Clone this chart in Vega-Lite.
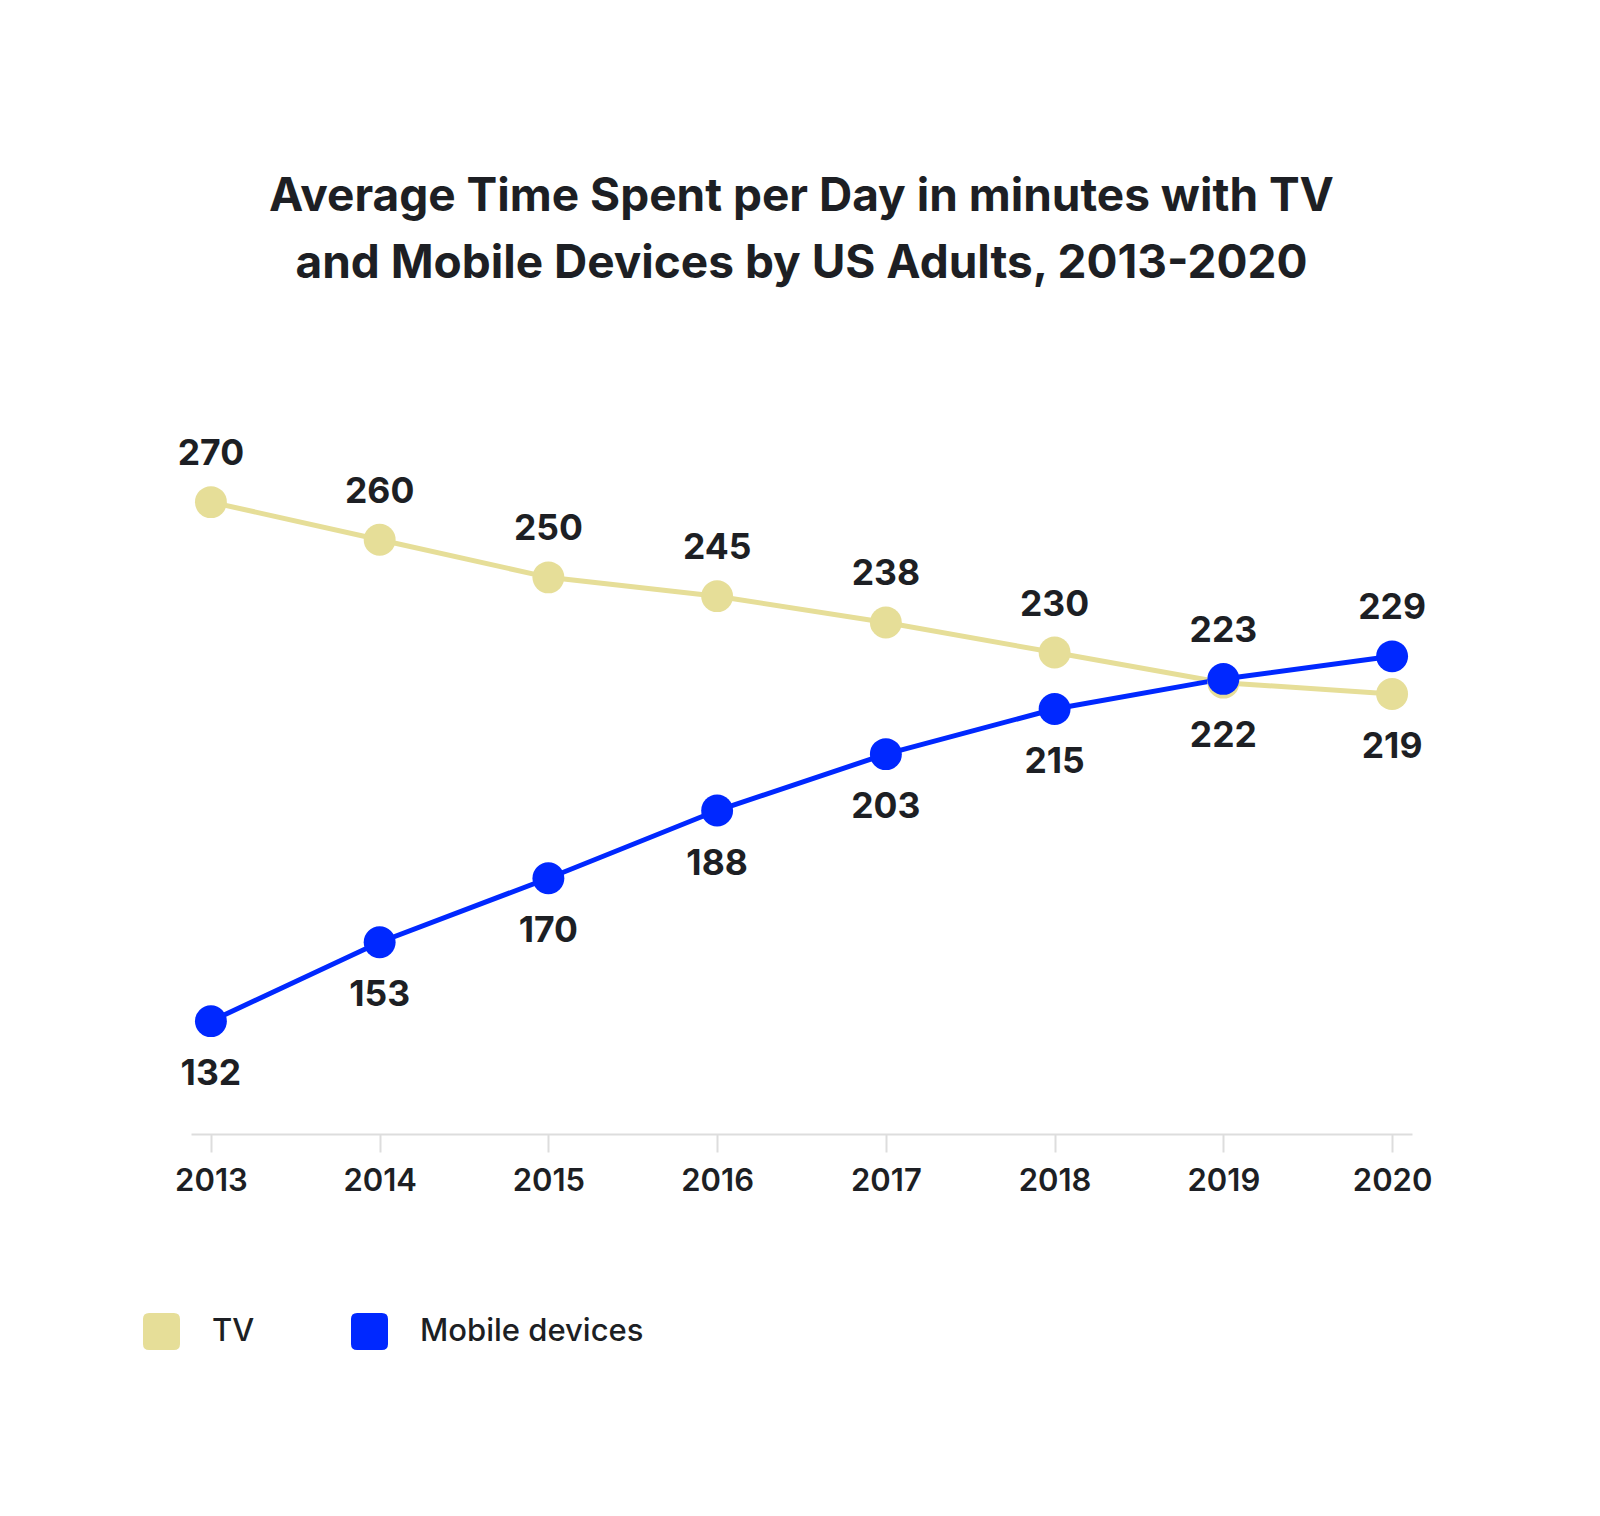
{
  "$schema": "https://vega.github.io/schema/vega-lite/v6.json",
  "width": 1221,
  "height": 677,
  "autosize": {"type": "none"},
  "padding": {"left": 191, "top": 457, "right": 188, "bottom": 382},
  "background": "white",
  "title": {
    "text": ["Average Time Spent per Day in minutes with TV", "and Mobile Devices by US Adults, 2013-2020"],
    "font": "Inter",
    "fontSize": 46,
    "fontWeight": 700,
    "color": "#1d1f24",
    "anchor": "middle",
    "offset": 149,
    "lineHeight": 67
  },
  "config": {"view": {"stroke": null}},
  "data": {
    "values": [
      {"year": 2013, "series": "TV", "minutes": 270},
      {"year": 2014, "series": "TV", "minutes": 260},
      {"year": 2015, "series": "TV", "minutes": 250},
      {"year": 2016, "series": "TV", "minutes": 245},
      {"year": 2017, "series": "TV", "minutes": 238},
      {"year": 2018, "series": "TV", "minutes": 230},
      {"year": 2019, "series": "TV", "minutes": 222},
      {"year": 2020, "series": "TV", "minutes": 219},
      {"year": 2013, "series": "Mobile devices", "minutes": 132},
      {"year": 2014, "series": "Mobile devices", "minutes": 153},
      {"year": 2015, "series": "Mobile devices", "minutes": 170},
      {"year": 2016, "series": "Mobile devices", "minutes": 188},
      {"year": 2017, "series": "Mobile devices", "minutes": 203},
      {"year": 2018, "series": "Mobile devices", "minutes": 215},
      {"year": 2019, "series": "Mobile devices", "minutes": 223},
      {"year": 2020, "series": "Mobile devices", "minutes": 229}
    ]
  },
  "encoding": {
    "x": {
      "field": "year",
      "type": "ordinal",
      "scale": {"type": "point", "padding": 0.118},
      "axis": {
        "title": null,
        "labelAngle": 0,
        "domainColor": "#dddddd",
        "domainWidth": 2,
        "tickColor": "#dddddd",
        "tickWidth": 2,
        "tickSize": 18,
        "labelFont": "Inter",
        "labelFontSize": 31,
        "labelFontWeight": 600,
        "labelColor": "#1d1f24",
        "labelPadding": 14,
        "grid": false
      }
    },
    "y": {
      "field": "minutes",
      "type": "quantitative",
      "scale": {"domain": [102, 282], "nice": false, "zero": false},
      "axis": null
    },
    "color": {
      "field": "series",
      "type": "nominal",
      "scale": {"domain": ["TV", "Mobile devices"], "range": ["#E6DE98", "#0028FF"]},
      "legend": {
        "title": null,
        "orient": "none",
        "legendX": -48,
        "legendY": 856,
        "direction": "horizontal",
        "symbolType": "M -0.67 -1 L 0.67 -1 Q 1 -1 1 -0.67 L 1 0.67 Q 1 1 0.67 1 L -0.67 1 Q -1 1 -1 0.67 L -1 -0.67 Q -1 -1 -0.67 -1 Z",
        "symbolSize": 1369,
        "symbolStrokeWidth": 0,
        "symbolOpacity": 1,
        "labelFont": "Inter",
        "labelFontSize": 31,
        "labelFontWeight": 500,
        "labelColor": "#1d1f24",
        "labelOffset": 32,
        "labelLimit": 600,
        "columnPadding": 96,
        "encode": {"symbols": {"update": {"fill": {"scale": "color", "field": "value"}, "opacity": {"value": 1}}}}
      }
    }
  },
  "layer": [
    {"mark": {"type": "line", "strokeWidth": 5}},
    {"mark": {"type": "point", "filled": true, "opacity": 1, "size": 1018}},
    {
      "transform": [{"filter": "(datum.series == 'TV') == (datum.year < 2019)"}],
      "mark": {"type": "text", "dy": -48, "baseline": "middle", "font": "Inter", "fontSize": 35.5, "fontWeight": 700},
      "encoding": {"text": {"field": "minutes"}, "color": {"value": "#1d1f24"}}
    },
    {
      "transform": [{"filter": "(datum.series == 'TV') != (datum.year < 2019)"}],
      "mark": {"type": "text", "dy": 53, "baseline": "middle", "font": "Inter", "fontSize": 35.5, "fontWeight": 700},
      "encoding": {"text": {"field": "minutes"}, "color": {"value": "#1d1f24"}}
    }
  ]
}
